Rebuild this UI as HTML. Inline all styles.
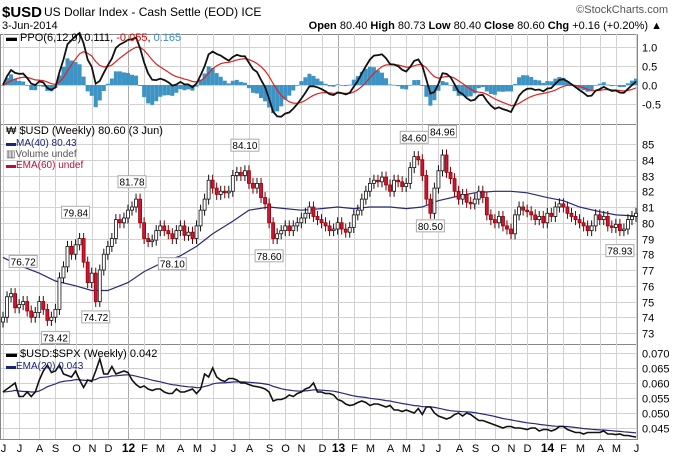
<!DOCTYPE html>
<html><head><meta charset="utf-8"><style>
body{margin:0;background:#fff;}
svg{display:block;font-family:"Liberation Sans",sans-serif;}
</style></head><body>
<svg id="c" width="673" height="457" xmlns="http://www.w3.org/2000/svg">
<g id="grid"></g>
<g id="plot"></g>
<g id="txt">
<text x="2" y="17" font-size="15" font-weight="bold">$USD</text>
<text x="44" y="16" font-size="12">US Dollar Index - Cash Settle (EOD)  ICE</text>
<text x="668" y="13" font-size="11" fill="#555" text-anchor="end">©StockCharts.com</text>
<text x="2" y="29" font-size="11">3-Jun-2014</text>
<text x="662" y="29" font-size="11" text-anchor="end"><tspan font-weight="bold">Open</tspan> 80.40 <tspan font-weight="bold">High</tspan> 80.73 <tspan font-weight="bold">Low</tspan> 80.40 <tspan font-weight="bold">Close</tspan> 80.60 <tspan font-weight="bold">Chg</tspan> +0.16 (+0.20%) ▲</text>
<text x="6" y="41" font-size="11">▬ PPO(6,12,9) 0.111, <tspan fill="#d00">-0.055</tspan>, <tspan fill="#3a8fc0">0.165</tspan></text>
<text x="6" y="134" font-size="11">₩ $USD (Weekly) 80.60 (3 Jun)</text>
<text x="6" y="146" font-size="10" fill="#1a237e">▬MA(40) 80.43</text>
<text x="6" y="157" font-size="10" fill="#555">▥Volume undef</text>
<text x="6" y="168" font-size="10" fill="#b0103a">▬EMA(60) undef</text>
<text x="6" y="357" font-size="11">▬ $USD:$SPX (Weekly) 0.042</text>
<text x="6" y="369" font-size="10" fill="#1a237e">▬EMA(20) 0.043</text>
</g>
</svg>
<script>
const months=['J','J','A','S','O','N','D','12','F','M','A','M','J','J','A','S','O','N','D','13','F','M','A','M','J','J','A','S','O','N','D','14','F','M','A','M','J'];
const weeksPerMonth=[4,5,4,5,4,4,5,4,4,5,4,4,5,4,5,4,4,5,4,4,4,5,4,4,4,5,4,5,4,4,5,4,4,5,4,5,1];
const closes=[74.0,75.3,75.5,74.6, 74.8,75.0,74.4,74.0,74.3, 75.0,74.5,73.8,74.0, 74.5,76.5,77.2,78.5,78.0, 78.6,79.0,77.5,76.2, 76.8,75.0,77.0,78.0, 78.5,79.0,80.2,80.0,80.3,
80.8,81.0,81.5,80.0, 79.0,78.8,78.9,79.5, 79.8,79.5,79.3,79.0,79.5, 79.8,79.2,79.4,79.0, 79.8,80.8,81.5,82.7, 82.2,81.8,82.0,81.9,82.0, 83.0,83.2,83.0,83.3, 82.5,82.2,82.5,81.6,81.2, 80.0,79.0,79.3,79.5, 79.8,79.5,79.8,80.0, 80.3,80.6,81.0,80.4,80.2, 80.0,79.8,79.5,79.6,
80.0,79.6,79.4,79.7, 80.5,80.8,81.5,82.0, 82.5,82.7,82.6,82.9,82.4, 82.0,82.7,82.6,82.3, 82.5,83.5,84.2,84.0, 83.0,81.5,80.6,82.2, 83.3,84.3,83.2,82.8,82.0, 81.5,81.8,81.3,81.2, 81.5,82.0,81.6,80.5,80.2, 80.0,80.4,79.8,79.6, 79.3,80.5,81.0,80.8, 80.7,80.5,80.2,80.4,80.0,
80.6,80.4,81.0,81.2, 81.0,80.6,80.4,80.2, 80.0,79.8,79.5,79.8,80.5, 80.2,80.4,79.8,79.7, 79.9,79.5,79.6,80.2,80.4, 80.6];
const ma40Monthly=[77.8,77.3,76.8,76.3,76.0,75.7,75.7,76.2,76.9,77.4,77.9,78.5,79.3,80.1,80.8,81.0,80.9,80.8,80.9,81.0,80.9,81.0,81.0,80.9,81.0,81.4,81.7,81.9,82.0,82.0,81.9,81.6,81.4,81.0,80.7,80.5,80.43];
const ratio=[.057,.058,.059,.060, .0555,.0555,.057,.0555,.057, .061,.064,.066,.0635, .064,.066,.063,.0625,.062, .064,.061,.0585,.061, .0605,.064,.068,.063, .063,.0655,.063,.0635,.064,
.0635,.061,.0595,.0585, .059,.058,.0575,.058, .058,.057,.0565,.0565,.058, .057,.057,.0575,.058, .0565,.058,.063,.062, .065,.062,.061,.0605,.0615, .0615,.061,.060,.060, .0595,.059,.0588,.0585,.058, .057,.054,.0545,.0545, .055,.056,.0555,.0565, .057,.058,.0585,.060,.057, .057,.0565,.0565,.056,
.0545,.054,.053,.0525, .0528,.0535,.054,.0535, .0525,.053,.053,.0525,.052, .0525,.051,.051,.0505, .051,.0505,.050,.0515, .0495,.052,.052,.050, .049,.0485,.048,.0485,.0495, .050,.049,.050,.0495, .0485,.0475,.0475,.047,.0465, .046,.0455,.045,.0455, .0455,.045,.045,.0448, .0445,.045,.045,.044,.0445,
.0445,.044,.0445,.0455, .0455,.0445,.044,.0435, .0435,.043,.0435,.0435,.0435, .0435,.044,.043,.043, .0428,.043,.0425,.0425,.0422, .042];
const priceTicks=[73,74,75,76,77,78,79,80,81,82,83,84,85];
const ppoTicks=[-0.5,0,0.5,1.0];
const ratioTicks=[0.045,0.050,0.055,0.060,0.065,0.070];
const notes=[[5,76.72,-1],[13,73.42,1],[18,79.84,-1],[23,74.72,1],[32,81.78,-1],[42,78.10,1],[60,84.10,-1],[66,78.60,1],[102,84.60,-1],[109,84.96,-1],[106,80.50,1],[153,78.93,1]];

const NS='http://www.w3.org/2000/svg';
const L=3,R=636,n=closes.length;
const X=i=>L+i*(R-L)/(n-1);
const YP=v=>144+(85-v)*15.75;
const YO=v=>85-38*v;
const YR=v=>353+(0.070-v)*3000;
const grid=document.getElementById('grid'),plot=document.getElementById('plot');
function el(tag,attrs,parent){const e=document.createElementNS(NS,tag);for(const k in attrs)e.setAttribute(k,attrs[k]);parent.appendChild(e);return e;}

const panels=[[34,124],[124,344],[344,439]];
panels.forEach(p=>{const r=el('rect',{x:0.5,y:p[0]+0.5,width:637,height:p[1]-p[0],fill:'none',stroke:'#888'},grid);

});
let idx=0;
months.forEach((m,k)=>{const x=Math.round(X(idx))+0.5;const yr=m.length>1;
 const ln=el('line',{x1:x,x2:x,y1:34,y2:439,stroke:yr?'#aaa':'#d2d2d2'},grid);
 
 
 const t=el('text',{x:x,y:452,'font-size':yr?12:11,'font-weight':yr?'bold':'normal','text-anchor':'middle'},grid);
 t.textContent=m;
 
 
 idx+=weeksPerMonth[k];});
function hticks(ticks,Y,fmt,name){ticks.forEach(v=>{const y=Math.round(Y(v))+0.5;
 const ln=el('line',{x1:1,x2:637,y1:y,y2:y,stroke:'#d2d2d2'},grid);
 
 
 const t=el('text',{x:642,y:y+4,'font-size':11},grid);t.textContent=fmt(v);
 
 });}
hticks(priceTicks,YP,v=>String(v),'price');
hticks(ppoTicks,YO,v=>v.toFixed(1),'ppo');
hticks(ratioTicks,YR,v=>v.toFixed(3),'ratio');

function ema(a,p){const k=2/(p+1);const o=[a[0]];for(let i=1;i<a.length;i++)o.push(a[i]*k+o[i-1]*(1-k));return o;}
const e6=ema(closes,6),e12=ema(closes,12);
const ppo=closes.map((c,i)=>(e6[i]-e12[i])/e12[i]*100);
const sig=ema(ppo,9);
ppo.forEach((v,i)=>{const h=v-sig[i];const y0=YO(0),y1=YO(h);
 const r=el('rect',{x:X(i)-2,y:Math.min(y0,y1),width:4,height:Math.max(0.5,Math.abs(y1-y0)),fill:'#3d94c4'},plot);
 
 });
function line(vals,Y,color,w,name,xs){const pts=vals.map((v,i)=>(xs?xs[i]:X(i)).toFixed(1)+','+Y(v).toFixed(1)).join(' ');
 const p=el('polyline',{points:pts,fill:'none',stroke:color,'stroke-width':w},plot);
 
 }
line(sig,YO,'#e02020',1.2,'ppo-signal-line');
line(ppo,YO,'#111',1.8,'ppo-line');

const mx=[];let s=0;weeksPerMonth.forEach(w=>{mx.push(X(s));s+=w;});mx[mx.length-1]=X(n-1);
line(ma40Monthly,YP,'#2a2a7a',1.2,'ma40-line',mx);

closes.forEach((c,i)=>{const o=i?closes[i-1]:c-0.3;const up=c>=o;const hi=Math.max(o,c)+0.35,lo=Math.min(o,c)-0.35;const x=X(i);
 const w=el('line',{x1:x,x2:x,y1:YP(hi),y2:YP(lo),stroke:up?'#111':'#700'},plot);
 
 
 const b=el('rect',{x:x-1.5,y:YP(Math.max(o,c)),width:3,height:Math.max(1,Math.abs(YP(o)-YP(c))),fill:up?'#fff':'#c8163c',stroke:up?'#111':'#900','stroke-width':0.8},plot);
 
 });
notes.forEach(a=>{const x=X(a[0]);const y=YP(a[1])+(a[2]>0?14:-10);
 const r=el('rect',{x:x-14,y:y-9,width:28,height:12,fill:'#fff',stroke:'#aaa'},plot);
 
 
 const t=el('text',{x:x,y:y+1,'font-size':10,'text-anchor':'middle'},plot);t.textContent=a[1].toFixed(2);
 
 });

line(ema(ratio,20),YR,'#2a2a7a',1.2,'ratio-ema-line');
line(ratio,YR,'#111',1.6,'ratio-line');
</script>
</body></html>
